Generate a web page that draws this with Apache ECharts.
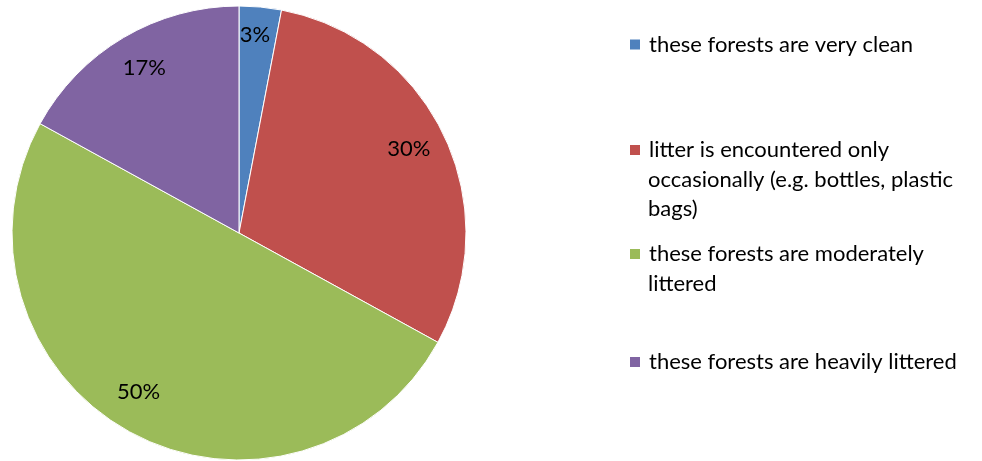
<!DOCTYPE html>
<html>
<head>
<meta charset="utf-8">
<script src="https://cdn.jsdelivr.net/npm/echarts@6/dist/echarts.min.js"></script>
<style>
  html, body { margin: 0; padding: 0; background: #fff; }
  #chart { width: 982px; height: 461px; }
</style>
</head>
<body>
<div id="chart"></div>
<script>
// Survey answers: how littered are these forests?
const categories = [
  'these forests are very clean',
  'litter is encountered only occasionally (e.g. bottles, plastic bags)',
  'these forests are moderately littered',
  'these forests are heavily littered'
];
const shares = [3, 30, 50, 17];
const legendLines = [
  ['these forests are very clean'],
  ['litter is encountered only', 'occasionally (e.g. bottles, plastic', 'bags)'],
  ['these forests are moderately', 'littered'],
  ['these forests are heavily littered']
];
const sliceColors = ['#4F81BD', '#C0504D', '#9BBB59', '#8064A2'];

const FONT = 'Lato';
const LEGEND_SIZE = 22;
const LABEL_SIZE = 22;
const LINE_H = 29.5;
const CENTER = [239, 233];
const RADIUS = 227;

// swatch centre y of each legend entry
const legendCenters = [44.5, 150, 254, 362];

// small hand adjustments of the percentage labels around the ring
const labelOffsets = [[-2, -8.5], [-2, -3], [-9, -8], [2, -2]];

const pieData = categories.map((name, i) => ({
  name,
  value: shares[i],
  itemStyle: { color: sliceColors[i] }
}));

const labelData = categories.map((name, i) => ({
  name,
  value: shares[i],
  label: { offset: labelOffsets[i] }
}));

const legendText = {
  fontFamily: FONT,
  fontSize: LEGEND_SIZE,
  lineHeight: LINE_H,
  color: '#000',
  padding: [0, 0, 0, 3]
};

// each entry gets its own legend block: the swatch with the first line,
// plus a swatch-less block below for any wrapped continuation lines
const legends = [];
categories.forEach((name, i) => {
  const lines = legendLines[i];
  const c = legendCenters[i];
  legends.push({
    left: 628,
    top: c - LINE_H / 2,
    padding: 0,
    icon: 'rect',
    itemWidth: 12,
    itemHeight: 12,
    selectedMode: false,
    data: [name],
    formatter: () => lines[0],
    textStyle: legendText
  });
  if (lines.length > 1) {
    legends.push({
      left: 628,
      top: c + LINE_H / 2,
      padding: 0,
      icon: 'none',
      itemWidth: 12,
      itemHeight: 12,
      selectedMode: false,
      data: [name],
      formatter: () => lines.slice(1).join('\n'),
      textStyle: legendText
    });
  }
});

const chart = echarts.init(document.getElementById('chart'), null, { renderer: 'canvas' });
chart.setOption({
  animation: false,
  backgroundColor: '#fff',
  legend: legends,
  series: [
    {
      type: 'pie',
      center: CENTER,
      radius: RADIUS,
      startAngle: 90,
      clockwise: true,
      data: pieData,
      label: { show: false },
      labelLine: { show: false },
      itemStyle: { borderColor: '#fff', borderWidth: 1 },
      emphasis: { disabled: true }
    },
    {
      // transparent ring that only carries the percentage labels
      type: 'pie',
      center: CENTER,
      radius: [147, RADIUS],
      startAngle: 90,
      clockwise: true,
      silent: true,
      data: labelData,
      itemStyle: { color: 'rgba(0,0,0,0)', borderWidth: 0 },
      label: {
        show: true,
        position: 'inside',
        formatter: p => p.value + '%',
        fontFamily: FONT,
        fontSize: LABEL_SIZE,
        color: '#000'
      },
      labelLine: { show: false },
      emphasis: { disabled: true }
    }
  ]
});
</script>
</body>
</html>
